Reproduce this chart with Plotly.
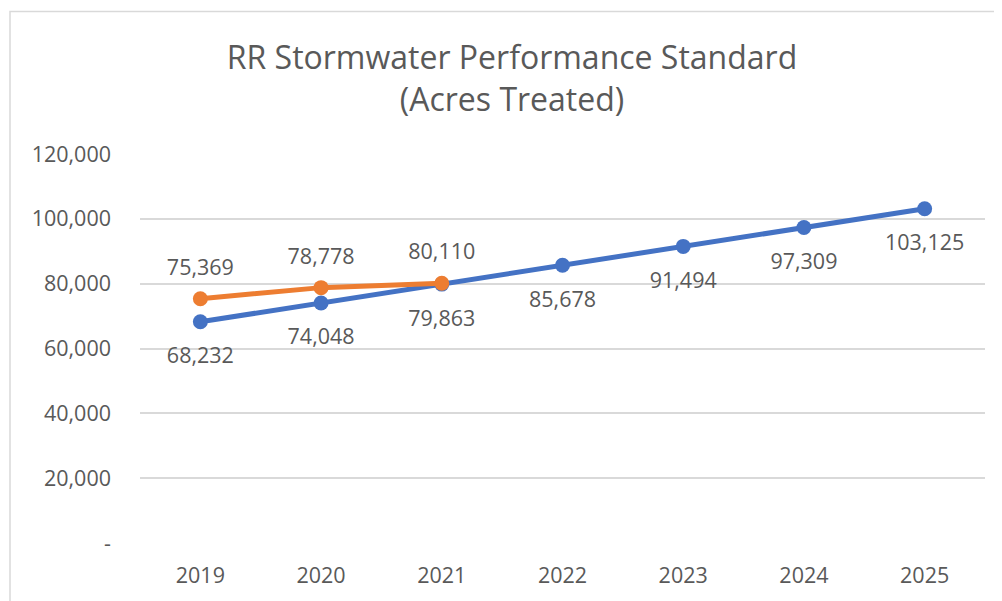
import plotly.graph_objects as go

years = ["2019", "2020", "2021", "2022", "2023", "2024", "2025"]
standard = [68232, 74048, 79863, 85678, 91494, 97309, 103125]
actual_years = ["2019", "2020", "2021"]
actual = [75369, 78778, 80110]
ytick_vals = [0, 20000, 40000, 60000, 80000, 100000, 120000]
ytick_text = ["-", "20,000", "40,000", "60,000", "80,000", "100,000", "120,000"]

BLUE = "#4472C4"
ORANGE = "#ED7D31"
TXT = "#595959"
FONT = "Open Sans"
FS = 21.5

fig = go.Figure()
fig.add_trace(go.Scatter(x=years, y=standard, mode="lines+markers",
                         line=dict(color=BLUE, width=5),
                         marker=dict(color=BLUE, size=15), showlegend=False))
fig.add_trace(go.Scatter(x=actual_years, y=actual, mode="lines+markers",
                         line=dict(color=ORANGE, width=5),
                         marker=dict(color=ORANGE, size=15), showlegend=False))

# data labels: invisible markers set the text offset from each point
fig.add_trace(go.Scatter(x=years, y=standard, mode="markers+text",
                         text=[f"{v:,}" for v in standard], textposition="bottom center",
                         textfont=dict(family=FONT, size=FS, color=TXT),
                         marker=dict(size=39, color="rgba(0,0,0,0)"),
                         hoverinfo="skip", showlegend=False))
fig.add_trace(go.Scatter(x=actual_years, y=actual, mode="markers+text",
                         text=[f"{v:,}" for v in actual], textposition="top center",
                         textfont=dict(family=FONT, size=FS, color=TXT),
                         marker=dict(size=28, color="rgba(0,0,0,0)"),
                         hoverinfo="skip", showlegend=False))

# page offset of 8px (body margin) is compensated in the figure size/margins
W, H = 994, 593
L, R, T, B = 132, 17, 146, 54
pw, ph = W - L - R, H - T - B

fig.update_layout(
    width=W, height=H,
    margin=dict(l=L, r=R, t=T, b=B),
    paper_bgcolor="white", plot_bgcolor="white",
    shapes=[dict(type="rect", xref="paper", yref="paper",
                 x0=(2 - L) / pw, x1=(W + 20 - L) / pw,
                 y0=-(B + 20) / ph, y1=(ph + T - 2) / ph,
                 line=dict(color="#D9D9D9", width=1.5), layer="below")],
    title=dict(text="RR Stormwater Performance Standard<br>(Acres Treated)",
               x=(504 - L) / pw, xref="paper", xanchor="center",
               y=1 - 61 / H, yanchor="middle",
               font=dict(family=FONT, size=32, color=TXT)),
    font=dict(family=FONT, size=FS, color=TXT),
    xaxis=dict(type="category", range=[-0.5, 6.5], showgrid=False, zeroline=False,
               showline=False, ticks="", ticklabelstandoff=17,
               tickfont=dict(family=FONT, size=FS, color=TXT)),
    yaxis=dict(range=[0, 120000], tickvals=ytick_vals, ticktext=ytick_text,
               showgrid=True, gridcolor="#D9D9D9", gridwidth=1.5, zeroline=False,
               showline=False, ticks="", ticklabelstandoff=28,
               tickfont=dict(family=FONT, size=FS, color=TXT)),
)

fig.write_html("out.html")
